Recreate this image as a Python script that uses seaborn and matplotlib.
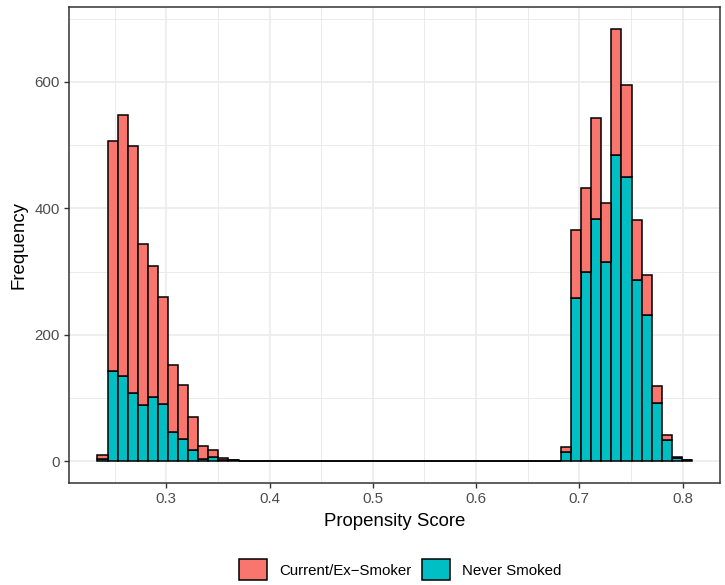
import numpy as np
import pandas as pd
import seaborn as sns
import matplotlib.pyplot as plt
import matplotlib.patches as mpatches
from matplotlib.ticker import MultipleLocator

# bin layout: 59 bins starting at ~0.2333
bin_start = 0.2333
bin_width = 0.00976
n_bins = 59

# bin index -> (total count, never smoked count)
left_idx = list(range(0, 14))
left_total = [10, 507, 547, 498, 344, 308, 259, 152, 120, 69, 24, 18, 5, 2]
left_never = [3, 143, 135, 108, 89, 101, 91, 46, 35, 17, 4, 7, 2, 1]

right_idx = list(range(46, 59))
right_total = [22, 365, 433, 543, 408, 684, 596, 381, 295, 119, 42, 6, 1]
right_never = [14, 258, 300, 383, 315, 485, 450, 287, 231, 92, 34, 5, 1]

groups = ["Current/Ex\u2212Smoker", "Never Smoked"]
colors = ["#F8766D", "#00BFC4"]

edges = bin_start + bin_width * np.arange(n_bins + 1)
centers = (edges[:-1] + edges[1:]) / 2

total = np.zeros(n_bins)
never = np.zeros(n_bins)
total[left_idx] = left_total
total[right_idx] = right_total
never[left_idx] = left_never
never[right_idx] = right_never
smoker = total - never

df = pd.concat([
    pd.DataFrame({"score": centers, "count": smoker, "group": groups[0]}),
    pd.DataFrame({"score": centers, "count": never, "group": groups[1]}),
])

plt.rcParams["font.family"] = ["Liberation Sans", "DejaVu Sans"]

fig = plt.figure(figsize=(7.25, 5.85), dpi=100)
ax = fig.add_axes([0.0948, 0.1749, 0.8987, 0.8126])

sns.histplot(data=df, x="score", weights="count", hue="group", hue_order=groups,
             bins=list(edges), multiple="stack", palette=colors, alpha=1,
             edgecolor="black", linewidth=1.1, legend=False, ax=ax, zorder=3)

ax.set_xlim(0.2055, 0.8365)
ax.set_ylim(-34.2, 718.2)

ax.xaxis.set_major_locator(MultipleLocator(0.1))
ax.xaxis.set_minor_locator(MultipleLocator(0.05))
ax.yaxis.set_major_locator(MultipleLocator(200))
ax.yaxis.set_minor_locator(MultipleLocator(100))
ax.set_xticks([0.3, 0.4, 0.5, 0.6, 0.7, 0.8])
ax.set_xticklabels(["0.3", "0.4", "0.5", "0.6", "0.7", "0.8"])

ax.set_facecolor("white")
ax.grid(which="major", color="#EBEBEB", linewidth=1.2, zorder=0)
ax.grid(which="minor", color="#EBEBEB", linewidth=0.7, zorder=0)
ax.set_axisbelow(True)
for s in ax.spines.values():
    s.set_color("#333333")
    s.set_linewidth(1.1)

ax.tick_params(which="major", length=3.5, width=1, color="#333333",
               labelcolor="#4D4D4D", labelsize=10.8, pad=3)
ax.tick_params(which="minor", length=0)

ax.set_xlabel("Propensity Score", fontsize=13.4, color="black", labelpad=5)
ax.set_ylabel("Frequency", fontsize=13.4, color="black", labelpad=5)

handles = [mpatches.Patch(facecolor=c, edgecolor="black", linewidth=1.1, label=g)
           for g, c in zip(groups, colors)]
fig.legend(handles=handles, loc="center", bbox_to_anchor=(0.552, 0.026), ncol=2,
           frameon=False, fontsize=10.8, handlelength=1.85, handleheight=1.75,
           handletextpad=0.8, columnspacing=0.7)

fig.savefig("out.png", dpi=100)
